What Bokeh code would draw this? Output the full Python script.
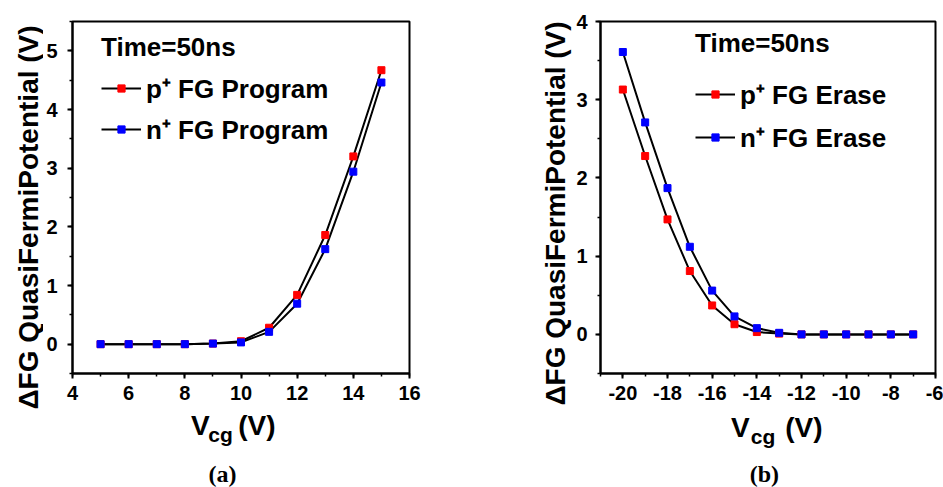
import math
from bokeh.plotting import figure
from bokeh.models import Label, Legend, LegendItem, SingleIntervalTicker, NumeralTickFormatter, Range1d
from bokeh.layouts import row, column
from bokeh.embed import file_html
from bokeh.resources import INLINE

# ---------------- data ----------------
prog_vcg = [5, 6, 7, 8, 9, 10, 11, 12, 13, 14, 15]
prog_p = [0, 0, 0, 0, 0.01, 0.05, 0.28, 0.84, 1.86, 3.20, 4.67]
prog_n = [0, 0, 0, 0, 0.01, 0.03, 0.21, 0.69, 1.62, 2.94, 4.46]

erase_vcg = [-20, -19, -18, -17, -16, -15, -14, -13, -12, -11, -10, -9, -8, -7]
erase_p = [3.13, 2.28, 1.47, 0.81, 0.37, 0.13, 0.03, 0.01, 0, 0, 0, 0, 0, 0]
erase_n = [3.61, 2.71, 1.87, 1.12, 0.56, 0.23, 0.08, 0.02, 0, 0, 0, 0, 0, 0]

legend_title = "Time=50ns"
prog_labels = ["p\u207a FG Program", "n\u207a FG Program"]
erase_labels = ["p\u207a FG Erase", "n\u207a FG Erase"]
y_title = "\u0394FG QuasiFermiPotential (V)"
captions = ["(a)", "(b)"]

FONT = "Liberation Sans"
H = 487
MAIN_H = 408
TOP, BOTTOM = 21, 373


def make_fig(width, left, right, xr, yr, xint, yint, ystandoff):
    p = figure(width=width, height=MAIN_H, x_range=xr, y_range=yr, title=None,
               output_backend="svg", toolbar_location=None,
               min_border_left=left, min_border_right=right,
               min_border_top=TOP, min_border_bottom=MAIN_H - BOTTOM,
               background_fill_color="white", border_fill_color="white")
    p.xgrid.visible = False
    p.ygrid.visible = False
    p.xaxis.ticker = SingleIntervalTicker(interval=xint, num_minor_ticks=2)
    p.yaxis.ticker = SingleIntervalTicker(interval=yint, num_minor_ticks=2)
    p.xaxis.formatter = NumeralTickFormatter(format="0")
    p.yaxis.formatter = NumeralTickFormatter(format="0")
    for ax in (p.xaxis[0], p.yaxis[0]):
        ax.axis_line_width = 2
        ax.axis_line_color = "black"
        ax.major_tick_line_width = 2
        ax.minor_tick_line_width = 1.5
        ax.major_tick_in = 0
        ax.major_tick_out = 5
        ax.minor_tick_in = 0
        ax.minor_tick_out = 3
        ax.major_label_text_font = FONT
        ax.major_label_text_font_style = "bold"
        ax.major_label_text_font_size = "20px"
        ax.major_label_text_color = "black"
    p.xaxis.major_label_standoff = 7
    p.yaxis.major_label_standoff = ystandoff
    p.outline_line_color = "black"
    p.outline_line_width = 2
    p.outline_line_alpha = 1
    return p


def add_series(p, x, yp, yn, labels, loc, standoff, spacing):
    rl1 = p.line(x, yp, line_color="black", line_width=2)
    rl2 = p.line(x, yn, line_color="black", line_width=2)
    rs1 = p.scatter(x, yp, marker="square", size=7, fill_color="#ff0000", line_color="#ff0000")
    rs2 = p.scatter(x, yn, marker="square", size=7, fill_color="#0000ff", line_color="#0000ff")
    leg = Legend(items=[LegendItem(label=labels[0], renderers=[rl1, rs1]),
                        LegendItem(label=labels[1], renderers=[rl2, rs2])],
                 location=loc, title=legend_title,
                 title_text_font=FONT, title_text_font_style="bold",
                 title_text_font_size="26px", title_text_color="black",
                 title_standoff=standoff,
                 label_text_font=FONT, label_text_font_style="bold",
                 label_text_font_size="26px", label_text_color="black",
                 label_standoff=5,
                 glyph_width=40, glyph_height=18, label_height=18,
                 spacing=spacing, padding=0, margin=0,
                 border_line_alpha=0, background_fill_alpha=0)
    p.add_layout(leg)


def strip(w, h):
    s = figure(width=w, height=h, x_range=Range1d(0, w), y_range=Range1d(h, 0),
               title=None, output_backend="svg", toolbar_location=None,
               x_axis_location=None, y_axis_location=None,
               min_border=0, min_border_left=0, min_border_right=0,
               min_border_top=0, min_border_bottom=0,
               outline_line_color=None,
               background_fill_color="white", border_fill_color="white")
    for g in s.grid:
        g.visible = False
    return s


def ytitle_strip(w, cx, cy):
    s = strip(w, H)
    s.add_layout(Label(x=cx, y=cy, text=y_title, angle=math.pi / 2,
                       text_align="center", text_baseline="middle",
                       text_font=FONT, text_font_style="bold",
                       text_font_size="28px", text_color="black"))
    return s


def xtitle_strip(w, vx, cgx, vvx, vmid, cgmid, capx, capmid, caption):
    s = strip(w, H - MAIN_H)
    s.add_layout(Label(x=vx, y=vmid, text="V", text_baseline="middle",
                       text_font=FONT, text_font_style="bold",
                       text_font_size="28px", text_color="black"))
    s.add_layout(Label(x=cgx, y=cgmid, text="cg", text_baseline="middle",
                       text_font=FONT, text_font_style="bold",
                       text_font_size="21px", text_color="black"))
    s.add_layout(Label(x=vvx, y=vmid, text="(V)", text_baseline="middle",
                       text_font=FONT, text_font_style="bold",
                       text_font_size="28px", text_color="black"))
    s.add_layout(Label(x=capx, y=capmid, text=caption, text_align="center",
                       text_baseline="middle", text_font="Liberation Serif",
                       text_font_style="bold", text_font_size="24px",
                       text_color="black"))
    return s


# ---------- left panel (global x 0..470) ----------
LS = 43          # y-title strip width
LW = 470 - LS
p1 = make_fig(LW, 72 - LS, 470 - 409, (4, 16), (-0.5, 5.5), 2, 1, 10)
add_series(p1, prog_vcg, prog_p, prog_n, prog_labels, (29, 226), 7, 5)
y1 = ytitle_strip(LS, 28, 217)
x1 = xtitle_strip(LW, 193 - LS, 215 - LS, 253 - LS, 425 - MAIN_H, 434 - MAIN_H,
                  233 - LS, 473 - MAIN_H, captions[0])
left = row(y1, column(p1, x1, spacing=0), spacing=0)

# ---------- right panel (global x 470..943) ----------
RS = 103
RW = 473 - RS
p2 = make_fig(RW, 128 - RS, 473 - 465, (-21, -6), (-0.5, 4), 2, 1, 8)
add_series(p2, erase_vcg, erase_p, erase_n, erase_labels, (95, 218), 17, 7)
y2 = ytitle_strip(RS, 85, 213)
x2 = xtitle_strip(RW, 717 - 470 - RS, 739 - 470 - RS, 777 - 470 - RS,
                  427 - MAIN_H, 436 - MAIN_H, 754 - 470 - RS, 473 - MAIN_H,
                  captions[1])
right = row(y2, column(p2, x2, spacing=0), spacing=0)

layout = row(left, right, spacing=0)
open("out.html", "w").write(file_html(layout, INLINE))
